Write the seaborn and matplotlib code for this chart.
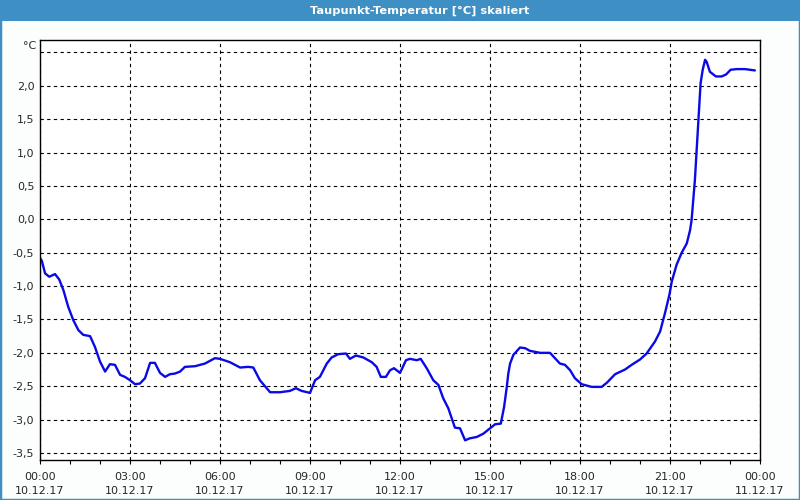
import numpy as np
import pandas as pd
import matplotlib.pyplot as plt
import seaborn as sns
from matplotlib.patches import Rectangle

# Stunden seit 10.12.17 00:00 und Taupunkt in °C
hours = [0.00, 0.06, 0.17, 0.31, 0.50, 0.64, 0.78, 0.94, 1.11, 1.28, 1.44, 1.67, 1.83,
         2.00, 2.17, 2.33, 2.50, 2.67, 2.83, 3.00, 3.17, 3.33, 3.50, 3.67, 3.83, 4.00,
         4.17, 4.33, 4.50, 4.67, 4.83, 5.17, 5.50, 5.83, 6.00, 6.33, 6.67, 6.94, 7.11,
         7.33, 7.67, 8.00, 8.33, 8.53, 8.72, 9.00, 9.17, 9.33, 9.56, 9.72, 9.94, 10.20,
         10.33, 10.53, 10.78, 11.06, 11.22, 11.36, 11.53, 11.67, 11.80, 12.00, 12.20,
         12.33, 12.56, 12.69, 12.89, 13.11, 13.28, 13.44, 13.61, 13.83, 14.00, 14.17,
         14.33, 14.56, 14.78, 15.00, 15.17, 15.36, 15.47, 15.56, 15.61, 15.67, 15.78,
         16.00, 16.17, 16.33, 16.67, 17.00, 17.33, 17.50, 17.67, 17.83, 18.06, 18.39,
         18.72, 18.89, 19.17, 19.50, 19.72, 20.00, 20.22, 20.50, 20.67, 20.83, 20.98,
         21.06, 21.22, 21.39, 21.56, 21.67, 21.72, 21.83, 21.91, 21.98, 22.02, 22.09,
         22.17, 22.22, 22.33, 22.53, 22.72, 22.87, 23.02, 23.22, 23.50, 23.67, 23.83]
dewpoint = [-0.58, -0.62, -0.81, -0.86, -0.82, -0.90, -1.06, -1.31, -1.51, -1.66, -1.73, -1.75, -1.91,
            -2.13, -2.28, -2.17, -2.18, -2.33, -2.36, -2.41, -2.47, -2.46, -2.38, -2.15, -2.15, -2.30,
            -2.36, -2.32, -2.31, -2.28, -2.21, -2.20, -2.16, -2.08, -2.09, -2.14, -2.22, -2.21, -2.22,
            -2.41, -2.59, -2.59, -2.57, -2.53, -2.57, -2.60, -2.41, -2.36, -2.16, -2.07, -2.02, -2.01,
            -2.09, -2.04, -2.07, -2.14, -2.21, -2.36, -2.36, -2.26, -2.23, -2.30, -2.11,
            -2.09, -2.11, -2.09, -2.23, -2.41, -2.48, -2.68, -2.83, -3.12, -3.13, -3.31,
            -3.28, -3.26, -3.21, -3.13, -3.07, -3.06, -2.81, -2.51, -2.31, -2.16, -2.03,
            -1.92, -1.93, -1.97, -2.00, -2.00, -2.16, -2.18, -2.26, -2.38, -2.47, -2.51,
            -2.51, -2.45, -2.32, -2.25, -2.18, -2.10, -2.01, -1.83, -1.68, -1.41, -1.13,
            -0.93, -0.68, -0.50, -0.36, -0.16, -0.01, 0.59, 1.19, 1.69, 2.04, 2.24,
            2.39, 2.36, 2.21, 2.14, 2.14, 2.17, 2.24, 2.25, 2.25, 2.24, 2.23]

tick_hours = [0, 3, 6, 9, 12, 15, 18, 21, 24]
tick_labels = ["00:00\n10.12.17", "03:00\n10.12.17", "06:00\n10.12.17",
               "09:00\n10.12.17", "12:00\n10.12.17", "15:00\n10.12.17",
               "18:00\n10.12.17", "21:00\n10.12.17", "00:00\n11.12.17"]
y_ticks = [-3.5, -3.0, -2.5, -2.0, -1.5, -1.0, -0.5, 0.0, 0.5, 1.0, 1.5, 2.0, 2.5]

df = pd.DataFrame({"Stunde": hours, "Taupunkt": dewpoint})

sns.set_style("white")
plt.rcParams["font.family"] = ["DejaVu Sans"]

frame_blue = "#3d8fc4"

fig = plt.figure(figsize=(8, 5), dpi=100)
fig.patch.set_facecolor("#fcfefd")
ax = fig.add_axes([0.05, 0.08, 0.90, 0.84])
ax.set_facecolor("white")

sns.lineplot(data=df, x="Stunde", y="Taupunkt", ax=ax, color="#0a0ae6",
             linewidth=1.7, estimator=None, sort=False)

ax.set_xlim(0, 24)
ax.set_ylim(-3.605, 2.686)
ax.set_xticks(tick_hours)
ax.set_xticklabels(tick_labels, fontsize=8, linespacing=1.45)
ax.set_xticks(np.arange(0, 25, 1), minor=True)
ax.set_yticks(y_ticks)
ax.set_yticklabels([f"{v:.1f}".replace(".", ",") if v < 2.4 else "" for v in y_ticks],
                   fontsize=8)
ax.tick_params(axis="x", which="both", direction="out", length=3, width=0.8,
               color="black", pad=6, bottom=True)
ax.tick_params(axis="y", length=0, pad=4)
ax.set_xlabel("")
ax.set_ylabel("")

ax.grid(True, which="major", color="black", linestyle=(0, (3, 3)), linewidth=0.8)
for s in ax.spines.values():
    s.set_color("black")
    s.set_linewidth(1.0)

fig.text(36 / 800, 1 - 46 / 500, "°C", ha="right", va="center", fontsize=8)

# Titelleiste und Fensterrahmen
fig.add_artist(Rectangle((0, 1 - 21 / 500), 1, 21 / 500, transform=fig.transFigure,
                         facecolor=frame_blue, edgecolor="none"))
fig.add_artist(Rectangle((0, 0), 1, 1, transform=fig.transFigure, fill=False,
                         edgecolor=frame_blue, linewidth=2.5))
fig.text(420 / 800, 1 - 10.5 / 500, "Taupunkt-Temperatur [°C] skaliert", color="white",
         fontweight="bold", fontsize=8.2, ha="center", va="center")

fig.savefig("out.png", dpi=100, facecolor=fig.get_facecolor())
